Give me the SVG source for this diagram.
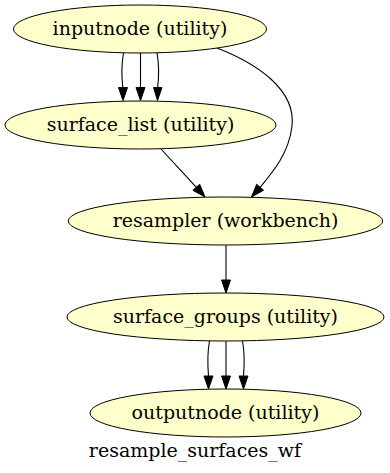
<svg xmlns="http://www.w3.org/2000/svg" width="390" height="473" viewBox="0 0 390 473">
<style>
.node ellipse{fill:#ffffcc;stroke:#000;stroke-width:1}
.node text,.label{font-family:"DejaVu Serif",serif;font-size:19px;fill:#000;text-anchor:middle}
.edge path{fill:none;stroke:#000;stroke-width:1.1}
.edge polygon{fill:#000;stroke:#000;stroke-width:1}
</style>
<rect width="390" height="473" fill="#fff"/>
<g id="edges">
<g class="edge"><path d="M123.5,53 C121.5,64 121.5,76 122.8,87.5"/><polygon points="118.5,87.5 123,100.5 127.5,87.5"/></g>
<g class="edge"><path d="M140.5,53 V87.5"/><polygon points="136,87.5 140.5,100.5 145,87.5"/></g>
<g class="edge"><path d="M157,53 C159,64 159,76 157.7,87.5"/><polygon points="153.5,87.5 157.5,100.5 162,87.5"/></g>
<g class="edge"><path d="M217,48 C258,64 296,90 292,126 C289,153 273,172 260.1,187.3"/><polygon points="263.5,190.2 251.5,197 256.7,184.3"/></g>
<g class="edge"><path d="M161,149 C171,160 184,174 196.3,187.3"/><polygon points="192.9,190.3 205,197 199.7,184.3"/></g>
<g class="edge"><path d="M226,245 V280"/><polygon points="221.5,280 226,293 230.5,280"/></g>
<g class="edge"><path d="M209.5,341 C207.5,352 207.5,364 208.5,376"/><polygon points="204,376 208.5,389 213,376"/></g>
<g class="edge"><path d="M226,341 V376"/><polygon points="221.5,376 226,389 230.5,376"/></g>
<g class="edge"><path d="M242.5,341 C244.5,352 244.5,364 243.5,376"/><polygon points="239,376 243.5,389 248,376"/></g>
</g>
<g id="inputnode" class="node"><ellipse cx="140" cy="29" rx="126.5" ry="24"/><text x="140" y="35">inputnode (utility)</text></g>
<g id="surface_list" class="node"><ellipse cx="140.5" cy="125" rx="135.5" ry="24"/><text x="140.5" y="131">surface_list (utility)</text></g>
<g id="resampler" class="node"><ellipse cx="225.5" cy="221" rx="157.2" ry="24"/><text x="225.5" y="227">resampler (workbench)</text></g>
<g id="surface_groups" class="node"><ellipse cx="225.5" cy="317" rx="158.5" ry="24"/><text x="225.5" y="323">surface_groups (utility)</text></g>
<g id="outputnode" class="node"><ellipse cx="225.5" cy="413" rx="135.5" ry="24"/><text x="225.5" y="419">outputnode (utility)</text></g>
<text class="label" x="195" y="457">resample_surfaces_wf</text>
</svg>
